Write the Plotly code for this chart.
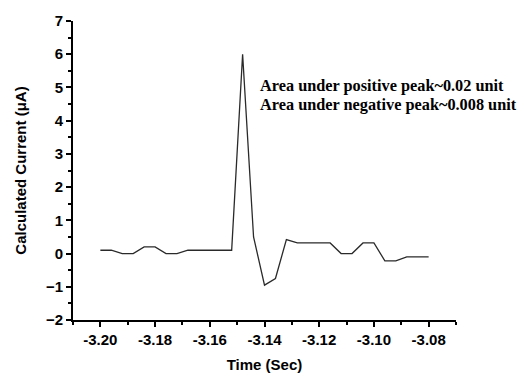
import plotly.graph_objects as go

time_sec = [-3.200, -3.196, -3.192, -3.188, -3.184, -3.180, -3.176, -3.172,
            -3.168, -3.164, -3.160, -3.156, -3.152, -3.148, -3.144, -3.140,
            -3.136, -3.132, -3.128, -3.124, -3.120, -3.116, -3.112, -3.108,
            -3.104, -3.100, -3.096, -3.092, -3.088, -3.084, -3.080]
current_ua = [0.1, 0.1, 0.0, 0.0, 0.2, 0.2, 0.0, 0.0,
              0.1, 0.1, 0.1, 0.1, 0.1, 6.0, 0.5, -0.95,
              -0.75, 0.42, 0.32, 0.32, 0.32, 0.32, 0.0, 0.0,
              0.32, 0.32, -0.22, -0.22, -0.1, -0.1, -0.1]

x_ticks = [-3.20, -3.18, -3.16, -3.14, -3.12, -3.10, -3.08]
x_tick_labels = ["-3.20", "-3.18", "-3.16", "-3.14", "-3.12", "-3.10", "-3.08"]
y_ticks = [-2, -1, 0, 1, 2, 3, 4, 5, 6, 7]

notes = ["Area under positive peak~0.02 unit", "Area under negative peak~0.008 unit"]

sans = "Liberation Sans, Arial, sans-serif"
serif = "Liberation Serif, Times New Roman, serif"

fig = go.Figure()
fig.add_trace(go.Scatter(x=time_sec, y=current_ua, mode="lines",
                         line=dict(color="#2a2a2a", width=1.3), showlegend=False))

fig.update_layout(
    width=524, height=383,
    margin=dict(l=73, r=68, t=15, b=56),
    paper_bgcolor="white", plot_bgcolor="white",
    font=dict(family=sans, color="black"),
)
fig.update_xaxes(
    range=[-3.21, -3.07], tickmode="array", tickvals=x_ticks, ticktext=x_tick_labels,
    ticks="outside", ticklen=5, tickwidth=2, tickcolor="black",
    minor=dict(ticks="outside", dtick=0.01, tick0=-3.21, ticklen=3, tickwidth=1.5, tickcolor="black"),
    showline=True, linecolor="black", linewidth=2, showgrid=False, zeroline=False,
    tickfont=dict(size=15, family=sans, weight="bold"),
    title=dict(text="<b>Time (Sec)</b>", font=dict(size=15, family=sans), standoff=12),
)
fig.update_yaxes(
    range=[-2, 7], tickmode="array", tickvals=y_ticks,
    ticks="outside", ticklen=5, tickwidth=2, tickcolor="black",
    minor=dict(ticks="outside", dtick=0.5, tick0=-2, ticklen=3, tickwidth=1.5, tickcolor="black"),
    showline=True, linecolor="black", linewidth=2, showgrid=False, zeroline=False,
    tickfont=dict(size=15, family=sans, weight="bold"),
    title=dict(text="<b>Calculated Current (μA)</b>", font=dict(size=15, family=sans), standoff=16),
)

for i, t in enumerate(notes):
    fig.add_annotation(text="<b>" + t + "</b>", xref="paper", yref="paper",
                       x=(258 - 73) / 383, y=(327 - (82 + 20 * i)) / 312,
                       xanchor="left", yanchor="middle", showarrow=False,
                       font=dict(size=16.3, family=serif, color="black"))

fig.write_html("out.html")
